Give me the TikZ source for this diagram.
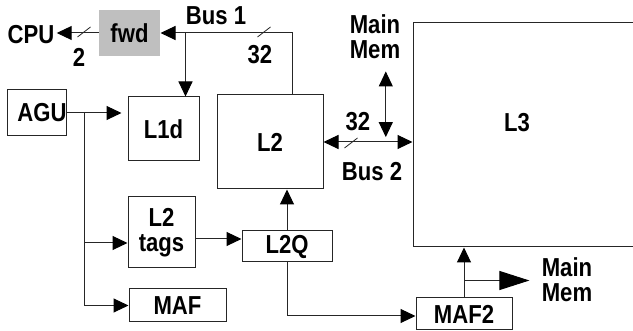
\documentclass[tikz,border=0pt]{standalone}
\usepackage{fontspec}
\setmainfont{Liberation Sans}[FakeStretch=0.85]
\usetikzlibrary{arrows.meta,calc}

\tikzset{
  box/.style={draw=black!85, line width=0.5pt, inner sep=0pt},
  lbl/.style={inner sep=1pt, align=center},
  arr/.style={draw=black!85, line width=0.5pt, -{Triangle[length=7.5pt,width=7pt,fill=black,color=black]}},
  dblarr/.style={draw=black!85, line width=0.5pt, {Triangle[length=7.5pt,width=7pt,fill=black,color=black]}-{Triangle[length=7.5pt,width=7pt,fill=black,color=black]}},
  bigarr/.style={draw=black!85, line width=0.5pt, -{Triangle[length=15pt,width=9.5pt,fill=black,color=black]}},
  busmark/.style={draw=black!85, line width=0.4pt}
}
\newcommand{\buswidth}[1]{\draw[busmark] (#1) ++(-6.5,5) -- ++(13,-10);}

\begin{document}
\begin{tikzpicture}[x=0.5pt, y=-0.5pt, font=\fontsize{13}{12.5}\selectfont\bfseries]
            \clip (0,0) rectangle (633,331);
            \node[box, draw=none, fill=black!25, minimum width=30.5pt, minimum height=23pt] (fwd) at (129.5,33) {fwd};
            \node[lbl] (CPU) at (31,35) {CPU};
            \node[box, minimum width=26pt, minimum height=23pt] (AGU) at (37,113) {\hspace*{5pt}AGU};
            \node[box, minimum width=35.5pt, minimum height=32pt] (L1d) at (163.5,129) {L1d};
            \node[box, minimum width=53pt, minimum height=47pt] (L2) at (270,142) {L2};
            \node[box, minimum width=120pt, minimum height=112pt,
                  label={[xshift=-8pt, yshift=6pt]center:L3}] (L3) at (533,135) {};
            \node[box, align=center, minimum width=33.5pt, minimum height=35.5pt] (L2tags) at (161.5,232.5) {L2\\tags};
            \node[box, minimum width=45pt, minimum height=15.5pt] (L2Q) at (287,246.5) {L2Q};
            \node[box, minimum width=48.5pt, minimum height=16.5pt] (MAF) at (177.5,305.5) {MAF};
            \node[box, minimum width=48pt, minimum height=16pt] (MAF2) at (464,314) {MAF2};
            \node[lbl] (mem1) at (375,37) {Main\\Mem};
            \node[lbl, align=left] (mem2) at (567,280) {Main\\Mem};
            \node[lbl] (bus1) at (216,16) {Bus 1};
            \node[lbl] (bus2) at (372,172) {Bus 2};
            \node[lbl] (w2) at (79,57) {2};
            \node[lbl] (w32a) at (260,55) {32};
            \node[lbl] (w32b) at (358,122) {32};

            \coordinate (tap1) at ([xshift=11pt]L1d.north);
            \coordinate (split) at ([xshift=8.5pt]AGU.east);
            \coordinate (t1) at ([yshift=-3.25pt]L2tags.east);
            \coordinate (t2) at ([yshift=-5.25pt]L2tags.west);
            \coordinate (tap2) at ([yshift=8.5pt]MAF2.north);
            \coordinate (tap3) at ($(L2.east)!0.7!(L3.west)$);

            \draw[arr] (fwd.west) -- (fwd.west -| CPU.east);
            \draw[arr] ([xshift=11pt]L2.north) |- (fwd.east);
            \draw[arr] (tap1 |- fwd.east) -- (tap1);
            \draw[arr, shorten >=3pt] (AGU.east) -- (AGU.east -| L1d.west);
            \draw[black!85, line width=0.5pt] (split) -- (split |- MAF.west);
            \draw[arr] (split |- t2) -- (t2);
            \draw[arr] (split |- MAF.west) -- (MAF.west);
            \draw[arr] (t1) -- (t1 -| L2Q.west);
            \draw[arr] (L2Q.north) -- (L2Q.north |- L2.south);
            \draw[arr] (L2Q.south) |- ([yshift=-1pt]MAF2.west);
            \draw[arr] (MAF2.north) -- (MAF2.north |- L3.south);
            \draw[bigarr] (tap2) -- ([xshift=-5pt]tap2 -| mem2.west);
            \draw[dblarr] (L2.east) -- (L2.east -| L3.west);
            \draw[dblarr, shorten <=5pt] (tap3 |- mem1.south) -- (tap3);

            \buswidth{84,32}
            \buswidth{264,32}
            \buswidth{351,143}
        \end{tikzpicture}
\end{document}
